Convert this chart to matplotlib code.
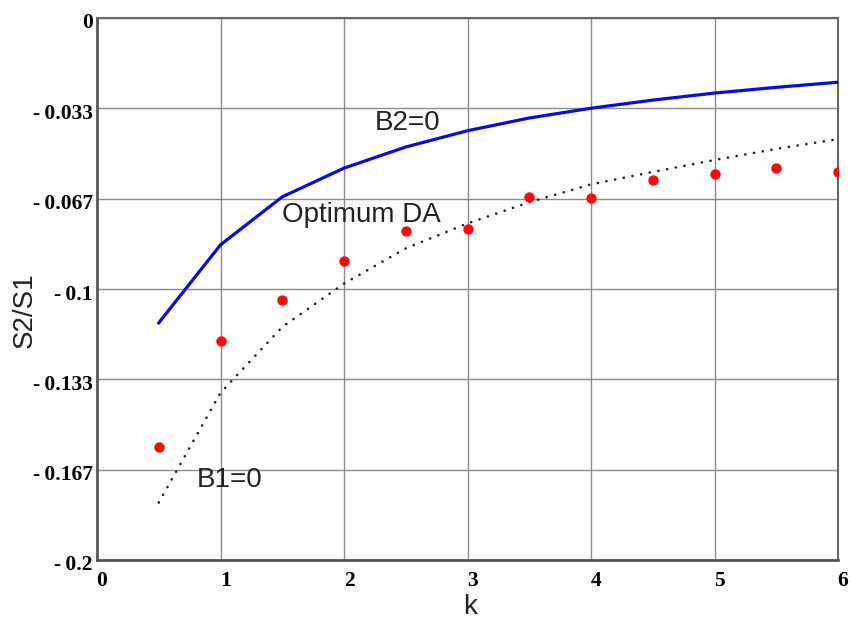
import matplotlib
matplotlib.use("Agg")
import matplotlib.pyplot as plt
from matplotlib.transforms import ScaledTranslation

# ---- data ----
k_vals = [0.5, 1.0, 1.5, 2.0, 2.5, 3.0, 3.5, 4.0, 4.5, 5.0, 5.5, 6.0]
b2_zero = [-0.1125, -0.0837, -0.0660, -0.0554, -0.0476, -0.0416, -0.0369,
           -0.0333, -0.0303, -0.0277, -0.0256, -0.0237]
opt_da = [-0.1583, -0.1193, -0.1042, -0.0897, -0.0786, -0.0779, -0.0661,
          -0.0664, -0.0598, -0.0577, -0.0554, -0.0569]
b1_zero = [-0.1788, -0.1383, -0.1140, -0.0980, -0.0850, -0.0758, -0.0680,
           -0.0614, -0.0568, -0.0524, -0.0483, -0.0447]

x_ticks = [0, 1, 2, 3, 4, 5, 6]
x_tick_labels = ["0", "1", "2", "3", "4", "5", "6"]
y_ticks = [0, -1/30, -2/30, -3/30, -4/30, -5/30, -6/30]
y_tick_labels = ["0", "-\u20090.033", "-\u20090.067", "-\u20090.1",
                 "-\u20090.133", "-\u20090.167", "-\u20090.2"]

fig = plt.figure(figsize=(8.51, 6.19), dpi=100)
ax = fig.add_axes([97/851, 1-560/619, (838-97)/851, (560-18)/619])

ax.plot(k_vals, b2_zero, color="#0a0adc", lw=2.3, zorder=3)
ax.plot(k_vals, b1_zero, color="#222222", lw=1.9,
        ls=(0, (0.05, 3.3)), dash_capstyle="round", zorder=3)
ax.plot(k_vals, opt_da, ls="none", marker="o", ms=7.5,
        color="#ff0a0a", markeredgewidth=0, zorder=4)

ax.set_xlim(0, 6)
ax.set_ylim(-0.2, 0)
ax.set_xticks(x_ticks)
ax.set_xticklabels(x_tick_labels)
ax.set_yticks(y_ticks)
ax.set_yticklabels(y_tick_labels)
ax.grid(True, color="#8c8c8c", lw=1.0)
ax.set_axisbelow(True)
ax.tick_params(axis="y", length=0, pad=3)
ax.tick_params(axis="x", length=0, pad=5)
for lab in ax.get_xticklabels() + ax.get_yticklabels():
    lab.set_fontfamily("Liberation Serif")
    lab.set_fontweight("bold")
    lab.set_fontsize(15.5)
for lab in ax.get_xticklabels():
    lab.set_transform(lab.get_transform() + ScaledTranslation(5/100, -4/100, fig.dpi_scale_trans))
for lab in ax.get_yticklabels():
    lab.set_transform(lab.get_transform() + ScaledTranslation(0, -3/100, fig.dpi_scale_trans))

for s in ["left", "bottom"]:
    ax.spines[s].set_color("#555555")
    ax.spines[s].set_linewidth(2.0)
for s in ["top", "right"]:
    ax.spines[s].set_color("#666666")
    ax.spines[s].set_linewidth(1.5)

lab_font = dict(family="Liberation Sans", fontsize=20, color="#222222")
ax.set_xlabel("k", **lab_font)
ax.set_ylabel("S2/S1", **lab_font)
ax.xaxis.set_label_coords((470-97)/741, (560-594)/542)
ax.yaxis.set_label_coords((38-97)/741, (560-310)/542)

ax.text(2.25, -0.0413, "B2=0", ha="left", va="baseline", **lab_font)
ax.text(1.498, -0.0753, "Optimum DA", ha="left", va="baseline", **lab_font)
ax.text(0.81, -0.1731, "B1=0", ha="left", va="baseline", **lab_font)

fig.savefig("out.png", dpi=100)
